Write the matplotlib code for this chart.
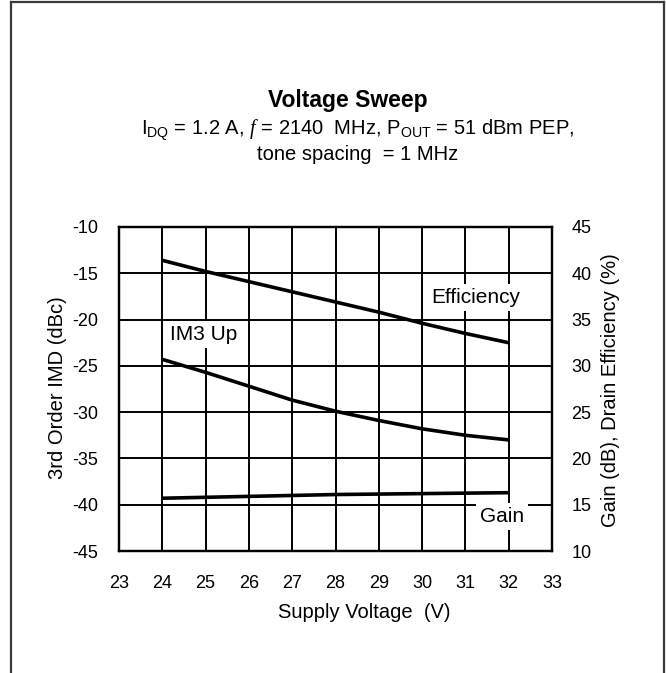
import numpy as np
import matplotlib
matplotlib.use("Agg")
import matplotlib.pyplot as plt
from matplotlib.lines import Line2D

plt.rcParams['font.family'] = ['Liberation Sans', 'DejaVu Sans']
plt.rcParams['mathtext.fontset'] = 'custom'
plt.rcParams['mathtext.rm'] = 'Liberation Sans'
plt.rcParams['mathtext.it'] = 'Liberation Serif:italic'
plt.rcParams['axes.unicode_minus'] = False

# data
voltage = [24, 25, 26, 27, 28, 29, 30, 31, 32]
efficiency = [41.4, 40.2, 39.1, 38.0, 36.9, 35.8, 34.6, 33.5, 32.5]   # right axis (%)
im3_up = [-24.3, -25.7, -27.2, -28.7, -29.9, -30.9, -31.8, -32.5, -33.0]  # left axis (dBc)
gain = [15.7, 15.8, 15.9, 16.0, 16.1, 16.15, 16.2, 16.25, 16.3]      # right axis (dB)

x_ticks = list(range(23, 34))
left_ticks = [-10, -15, -20, -25, -30, -35, -40, -45]
right_ticks = [45, 40, 35, 30, 25, 20, 15, 10]

W, H = 666, 673
fig = plt.figure(figsize=(W / 100, H / 100), dpi=100)

# outer frame (open at the bottom)
fc = '#3a3a3a'
fig.add_artist(Line2D([11 / W, 11 / W], [0, 1 - 2 / H], color=fc, lw=1.6, transform=fig.transFigure))
fig.add_artist(Line2D([11 / W, 664 / W], [1 - 2 / H, 1 - 2 / H], color=fc, lw=1.6, transform=fig.transFigure))
fig.add_artist(Line2D([664 / W, 664 / W], [0, 1 - 2 / H], color=fc, lw=1.6, transform=fig.transFigure))

ax_l, ax_r, ax_t, ax_b = 119, 552, 227, 551
ax = fig.add_axes([ax_l / W, 1 - ax_b / H, (ax_r - ax_l) / W, (ax_b - ax_t) / H])
ax2 = ax.twinx()

ax.set_xlim(23, 33)
ax.set_ylim(-45, -10)
ax2.set_ylim(10, 45)
ax.set_xticks(x_ticks)
ax.set_yticks(left_ticks)
ax2.set_yticks(right_ticks)

for a in (ax, ax2):
    for s in a.spines.values():
        s.set_linewidth(1.6)
        s.set_color('black')
ax.tick_params(axis='x', length=0, pad=17, labelsize=13)
ax.tick_params(axis='y', length=0, pad=15, labelsize=13)
ax2.tick_params(axis='y', length=0, pad=14, labelsize=13)

ax.grid(True, color='black', linewidth=1.4)
ax.set_axisbelow(True)

ax2.plot(voltage, efficiency, color='black', lw=2.6, solid_capstyle='butt')
ax.plot(voltage, im3_up, color='black', lw=2.6, solid_capstyle='butt')
ax2.plot(voltage, gain, color='black', lw=2.6, solid_capstyle='butt')

box = dict(facecolor='white', edgecolor='none', pad=3)
ax.text(31.25, -17.6, 'Efficiency', ha='center', va='center', fontsize=15, bbox=box, zorder=5)
ax.text(24.96, -21.6, 'IM3 Up', ha='center', va='center', fontsize=15, bbox=box, zorder=5)
ax.text(31.85, -41.3, 'Gain', ha='center', va='center', fontsize=15, bbox=box, zorder=5)

fig.text(58 / W, 1 - 388 / H, '3rd Order IMD (dBc)', rotation=90, ha='center', va='center', fontsize=14.5)
fig.text(610 / W, 1 - 390 / H, 'Gain (dB), Drain Efficiency (%)', rotation=90, ha='center', va='center', fontsize=14.5)
fig.text(364 / W, 1 - 612 / H, 'Supply Voltage  (V)', ha='center', va='center', fontsize=14.5)

fig.text(348 / W, 1 - 101 / H, 'Voltage Sweep', ha='center', va='center', fontsize=16.5, fontweight='bold')
fig.text(358 / W, 1 - 130 / H,
         r'I$_{\rm DQ}$ = 1.2 A, $\it{f}$ = 2140  MHz, P$_{\rm OUT}$ = 51 dBm PEP,',
         ha='center', va='center', fontsize=14.5)
fig.text(358 / W, 1 - 155 / H, 'tone spacing  = 1 MHz', ha='center', va='center', fontsize=14.5)

fig.savefig('out.png', dpi=100)
